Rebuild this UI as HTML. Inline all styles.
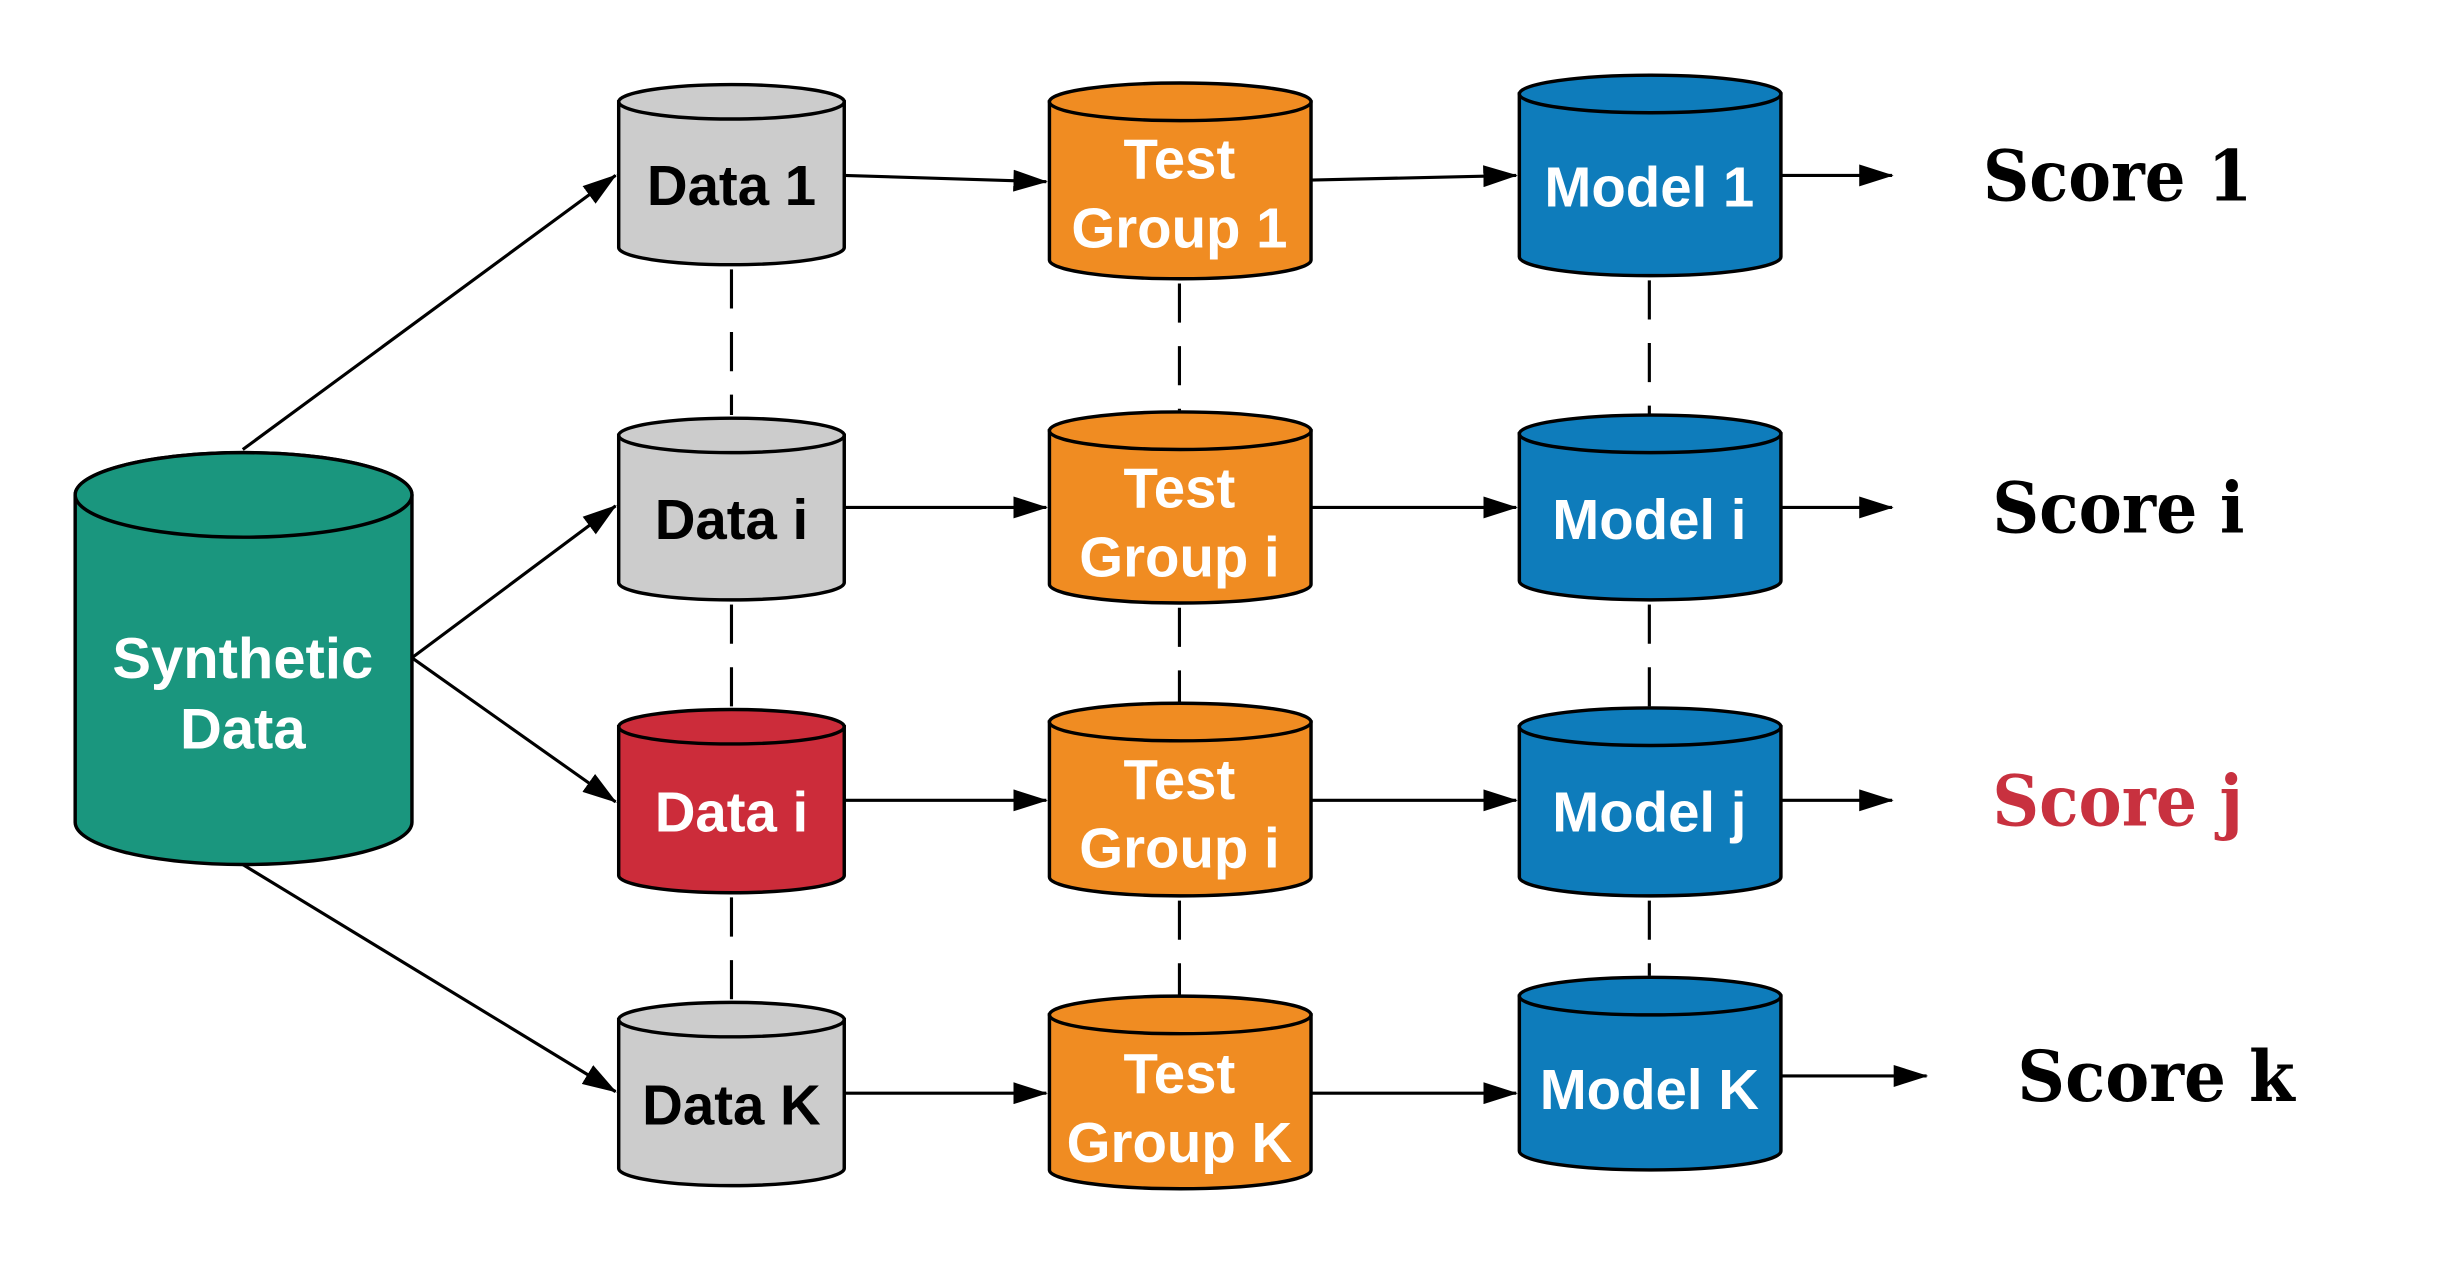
<!DOCTYPE html>
<html><head><meta charset="utf-8"><style>
html,body{margin:0;padding:0;background:#fff;}
svg{display:block;}
.lb{font-family:"Liberation Sans",sans-serif;font-weight:bold;font-size:36px;text-anchor:middle;}
.sc{font-family:"DejaVu Serif","Liberation Serif",serif;font-weight:bold;font-size:45px;}
</style></head><body>
<svg width="2456" height="1268" viewBox="0 0 1568 809.6" preserveAspectRatio="none" xmlns="http://www.w3.org/2000/svg">
<defs>
<marker id="ah2" markerWidth="22" markerHeight="14" refX="21" refY="7" orient="auto" markerUnits="userSpaceOnUse">
<path d="M0,0 L22,7 L0,14 z" fill="#000"/>
</marker>
</defs>
<g stroke="#000" stroke-width="2" fill="none" stroke-dasharray="25,15">
<line x1="467" y1="172" x2="467" y2="265"/>
<line x1="467" y1="386" x2="467" y2="452"/>
<line x1="467" y1="573" x2="467" y2="638"/>
<line x1="753" y1="181" x2="753" y2="262"/>
<line x1="753" y1="388" x2="753" y2="448"/>
<line x1="753" y1="575" x2="753" y2="635"/>
<line x1="1053" y1="179" x2="1053" y2="265"/>
<line x1="1053" y1="386" x2="1053" y2="451"/>
<line x1="1053" y1="575" x2="1053" y2="623"/>
</g>
<g stroke="#000" stroke-width="2" fill="none" marker-end="url(#ah2)">
<line x1="155" y1="287" x2="393" y2="112"/>
<line x1="263" y1="420" x2="393" y2="323"/>
<line x1="263" y1="420" x2="393" y2="512"/>
<line x1="155" y1="552" x2="393" y2="697"/>
<line x1="539" y1="112" x2="668" y2="116"/>
<line x1="837" y1="115" x2="968" y2="112"/>
<line x1="1137" y1="112" x2="1208" y2="112"/>
<line x1="539" y1="324" x2="668" y2="324"/>
<line x1="837" y1="324" x2="968" y2="324"/>
<line x1="1137" y1="324" x2="1208" y2="324"/>
<line x1="539" y1="511" x2="668" y2="511"/>
<line x1="837" y1="511" x2="968" y2="511"/>
<line x1="1137" y1="511" x2="1208" y2="511"/>
<line x1="539" y1="698" x2="668" y2="698"/>
<line x1="837" y1="698" x2="968" y2="698"/>
<line x1="1137" y1="687" x2="1230" y2="687"/>
</g>
<g stroke="#000" stroke-width="2.2">
<path d="M48,316 V525 A107.5,27 0 0 0 263,525 V316 A107.5,27 0 0 0 48,316 Z" fill="#1a967e"/>
<ellipse cx="155.5" cy="316" rx="107.5" ry="27" fill="#1a967e"/>
<path d="M395,65 V158 A72,11 0 0 0 539,158 V65 Z" fill="#cccccc"/><ellipse cx="467" cy="65" rx="72" ry="11" fill="#cccccc"/>
<path d="M395,278 V372 A72,11 0 0 0 539,372 V278 Z" fill="#cccccc"/><ellipse cx="467" cy="278" rx="72" ry="11" fill="#cccccc"/>
<path d="M395,464 V559 A72,11 0 0 0 539,559 V464 Z" fill="#cc2c3a"/><ellipse cx="467" cy="464" rx="72" ry="11" fill="#cc2c3a"/>
<path d="M395,651 V746 A72,11 0 0 0 539,746 V651 Z" fill="#cccccc"/><ellipse cx="467" cy="651" rx="72" ry="11" fill="#cccccc"/>
<path d="M670,65 V166 A83.5,12 0 0 0 837,166 V65 Z" fill="#f08c22"/><ellipse cx="753.5" cy="65" rx="83.5" ry="12" fill="#f08c22"/>
<path d="M670,275 V373 A83.5,12 0 0 0 837,373 V275 Z" fill="#f08c22"/><ellipse cx="753.5" cy="275" rx="83.5" ry="12" fill="#f08c22"/>
<path d="M670,461 V560 A83.5,12 0 0 0 837,560 V461 Z" fill="#f08c22"/><ellipse cx="753.5" cy="461" rx="83.5" ry="12" fill="#f08c22"/>
<path d="M670,648 V747 A83.5,12 0 0 0 837,747 V648 Z" fill="#f08c22"/><ellipse cx="753.5" cy="648" rx="83.5" ry="12" fill="#f08c22"/>
<path d="M970,60 V164 A83.5,12 0 0 0 1137,164 V60 Z" fill="#0e7cbb"/><ellipse cx="1053.5" cy="60" rx="83.5" ry="12" fill="#0e7cbb"/>
<path d="M970,277 V371 A83.5,12 0 0 0 1137,371 V277 Z" fill="#0e7cbb"/><ellipse cx="1053.5" cy="277" rx="83.5" ry="12" fill="#0e7cbb"/>
<path d="M970,464 V560 A83.5,12 0 0 0 1137,560 V464 Z" fill="#0e7cbb"/><ellipse cx="1053.5" cy="464" rx="83.5" ry="12" fill="#0e7cbb"/>
<path d="M970,636 V735 A83.5,12 0 0 0 1137,735 V636 Z" fill="#0e7cbb"/><ellipse cx="1053.5" cy="636" rx="83.5" ry="12" fill="#0e7cbb"/>
</g>
<g class="lb">
<text x="155" y="433" fill="#fff" style="font-size:37px">Synthetic</text>
<text x="155" y="478" fill="#fff" style="font-size:37px">Data</text>
<text x="467" y="131" fill="#000">Data 1</text>
<text x="467" y="344" fill="#000">Data i</text>
<text x="467" y="531" fill="#fff">Data i</text>
<text x="467" y="718" fill="#000">Data K</text>
<text x="753" y="114" fill="#fff">Test</text>
<text x="753" y="158" fill="#fff">Group 1</text>
<text x="753" y="324" fill="#fff">Test</text>
<text x="753" y="368" fill="#fff">Group i</text>
<text x="753" y="510" fill="#fff">Test</text>
<text x="753" y="554" fill="#fff">Group i</text>
<text x="753" y="698" fill="#fff">Test</text>
<text x="753" y="742" fill="#fff">Group K</text>
<text x="1053" y="132" fill="#fff">Model 1</text>
<text x="1053" y="344" fill="#fff">Model i</text>
<text x="1053" y="531" fill="#fff">Model j</text>
<text x="1053" y="708" fill="#fff">Model K</text>
</g>
<g class="sc">
<text x="1266" y="128" textLength="172" lengthAdjust="spacingAndGlyphs" fill="#000">Score 1</text>
<text x="1272" y="340" textLength="161" lengthAdjust="spacingAndGlyphs" fill="#000">Score i</text>
<text x="1272" y="527" textLength="160" lengthAdjust="spacingAndGlyphs" fill="#c8313f">Score j</text>
<text x="1288" y="703" textLength="177" lengthAdjust="spacingAndGlyphs" fill="#000">Score k</text>
</g>
</svg>
</body></html>
